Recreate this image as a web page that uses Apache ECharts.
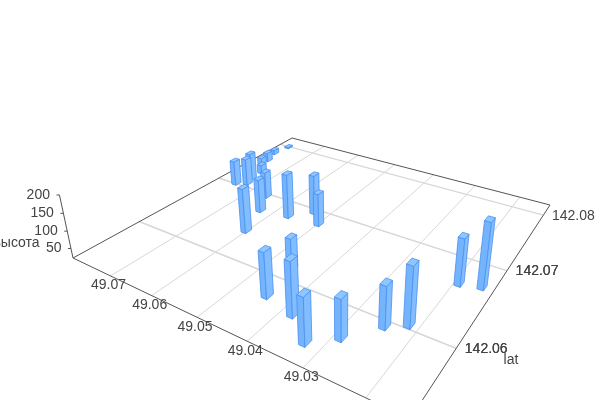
<!DOCTYPE html><html><head><meta charset="utf-8"><script src="https://cdn.jsdelivr.net/npm/echarts@6/dist/echarts.min.js"></script></head><body style="margin:0;background:#fff"><div id="c" style="width:600px;height:400px"></div><script>
var lats=[49.0327,49.0379,49.0454,49.0442,49.0288,49.0246,49.0216,49.0192,49.0156,49.0601,49.0628,49.0656,49.0566,49.0531,49.0498,49.0750,49.0729,49.0738,49.0769,49.0767,49.0738,49.0779,49.0772];
var lngs=[142.0553,142.0571,142.0615,142.0578,142.0569,142.0594,142.0604,142.0665,142.0670,142.0638,142.0672,142.0696,142.0677,142.0695,142.0680,142.0701,142.0707,142.0718,142.0751,142.0760,142.0734,142.0778,142.0799];
var heights=[147,170,113,148,131,136,182,154,205,155,124,105,157,143,121,101,108,109,44,52,51,37,26];
var latTicks=[49.02,49.03,49.04,49.05,49.06,49.07];
var lngTicks=[142.06,142.06,142.07,142.07,142.08];
var heightTicks=[50,100,150,200];
var latName='lat',heightName='высота';

var L1=49.08,L0=49.0136,G0=142.0534,G1=142.0822,Z0=22,Z1=200;
var H=null;
function solve(A,b){var n=b.length;A=A.map(function(r,i){return r.concat([b[i]])});for(var i=0;i<n;i++){var p=i;for(var k=i;k<n;k++)if(Math.abs(A[k][i])>Math.abs(A[p][i]))p=k;var t=A[i];A[i]=A[p];A[p]=t;for(var k=0;k<n;k++)if(k!=i){var f=A[k][i]/A[i][i];for(var j=i;j<=n;j++)A[k][j]-=f*A[i][j];}}return A.map(function(r,i){return r[n]/r[i]});}
// camera calibration: floor corners and vertical vanishing point on screen
(function(){var c=[[0,0,73,258],[0,1,292,138],[1,1,550,205],[1,0,410,419]],M=[],R=[];c.forEach(function(q){var u=q[0],v=q[1],x=q[2],y=q[3];M.push([u,v,1,0,0,0,-u*x,-v*x]);R.push(x);M.push([0,0,0,u,v,1,-u*y,-v*y]);R.push(y);});var h=solve(M,R);H=[[h[0],h[1],h[2]],[h[3],h[4],h[5]],[h[6],h[7],1]];})();
var VX=340,VY=1500,S=(195-258)/(VY-195);
function pu(la){return (L1-la)/(L1-L0);} function pv(g){return (g-G0)/(G1-G0);} function pz(h){return (h-Z0)/(Z1-Z0);}
function P(u,v,z){var X=H[0][0]*u+H[0][1]*v+H[0][2]+S*VX*z,Y=H[1][0]*u+H[1][1]*v+H[1][2]+S*VY*z,W=H[2][0]*u+H[2][1]*v+1+S*z;return[X/W,Y/W];}
var DU=0.0085,DV=0.0135;
var TEXT='#444',FONT='Liberation Sans, Arial, sans-serif',AXIS='#555',GRID='#d8d8d8';

function line(a,b,color,w){return{type:'line',shape:{x1:a[0],y1:a[1],x2:b[0],y2:b[1]},style:{stroke:color,lineWidth:w||1},silent:true};}
function text(s,x,y,align){return{type:'text',x:x,y:y,style:{text:s,fill:TEXT,font:'14px '+FONT,align:align||'center',verticalAlign:'middle'},silent:true};}
function area(p){var s=0;for(var i=0;i<p.length;i++){var a=p[i],b=p[(i+1)%p.length];s+=a[0]*b[1]-b[0]*a[1];}return s;}
function poly(p,fill,z2){return{type:'polygon',shape:{points:p},style:{fill:fill,stroke:'#4a8ff0',lineWidth:0.8,lineJoin:'round'},z2:z2};}

var gridSeries={type:'custom',coordinateSystem:'none',silent:true,z:1,
 data:latTicks.map(function(v){return[0,v]}).concat(lngTicks.map(function(v){return[1,v]})),
 renderItem:function(p,api){var k=api.value(0),v=api.value(1);var a,b;if(k==0){a=P(pu(v),0,0);b=P(pu(v),1,0);}else{a=P(0,pv(v),0);b=P(1,pv(v),0);}return line(a,b,GRID,k==0?1:1.2);}};
var frameSeries={type:'custom',coordinateSystem:'none',silent:true,z:2,
 data:[[0,0,0,0,1,0],[0,1,0,1,1,0],[1,1,0,1,0,0],[1,0,0,0,0,0],[0,0,0,0,0,1]],
 renderItem:function(p,api){return line(P(api.value(0),api.value(1),api.value(2)),P(api.value(3),api.value(4),api.value(5)),AXIS);}};
var ticksSeries={type:'custom',coordinateSystem:'none',silent:true,z:2,data:heightTicks.map(function(v){return[v]}),
 renderItem:function(p,api){var q=P(0,0,pz(api.value(0)));return line([q[0]-3,q[1]],q,AXIS);}};
var latLabels={type:'custom',coordinateSystem:'none',silent:true,z:5,data:latTicks.map(function(v){return[v]}),
 renderItem:function(p,api){var v=api.value(0),q=P(pu(v),0,0);return text(v.toFixed(2),q[0]-2,q[1]+9.5);}};
var lngLabels={type:'custom',coordinateSystem:'none',silent:true,z:5,data:lngTicks.map(function(v){return[v]}),
 renderItem:function(p,api){var v=api.value(0),q=P(1,pv(v),0);return text(v.toFixed(2),q[0]+30,q[1]+0.5);}};
var zLabels={type:'custom',coordinateSystem:'none',silent:true,z:5,data:heightTicks.map(function(v){return[v]}),
 renderItem:function(p,api){var v=api.value(0),q=P(0,0,pz(v));return text(String(v),q[0]-9.5,q[1],'right');}};
var names={type:'custom',coordinateSystem:'none',silent:true,z:5,data:[[0]],
 renderItem:function(){return{type:'group',children:[text(latName,511,360),text(heightName,16.5,243)]};}};
var barSeries={type:'custom',coordinateSystem:'none',silent:true,z:3,
 data:lats.map(function(v,i){return[v,lngs[i],heights[i]]}),
 renderItem:function(p,api){var u=pu(api.value(0)),v=pv(api.value(1)),z=pz(api.value(2));
  var b=[[u-DU,v-DV],[u+DU,v-DV],[u+DU,v+DV],[u-DU,v+DV]];
  var lo=b.map(function(q){return P(q[0],q[1],0)}),hi=b.map(function(q){return P(q[0],q[1],z)});
  var order=P(u,v,0)[1]*100,ch=[],cols=['#74b4fd','#82bdff','#74b4fd','#82bdff'];
  for(var i=0;i<4;i++){var j=(i+1)%4,f=[lo[i],lo[j],hi[j],hi[i]];if(area(f)<0)ch.push(poly(f,cols[i],order));}
  ch.push(poly(hi,'#8ec6ff',order+1));
  return{type:'group',children:ch};}};
var chart=echarts.init(document.getElementById('c'),null,{renderer:'canvas'});
chart.setOption({animation:false,backgroundColor:'#fff',series:[gridSeries,frameSeries,ticksSeries,barSeries,latLabels,lngLabels,zLabels,names]});
</script></body></html>
